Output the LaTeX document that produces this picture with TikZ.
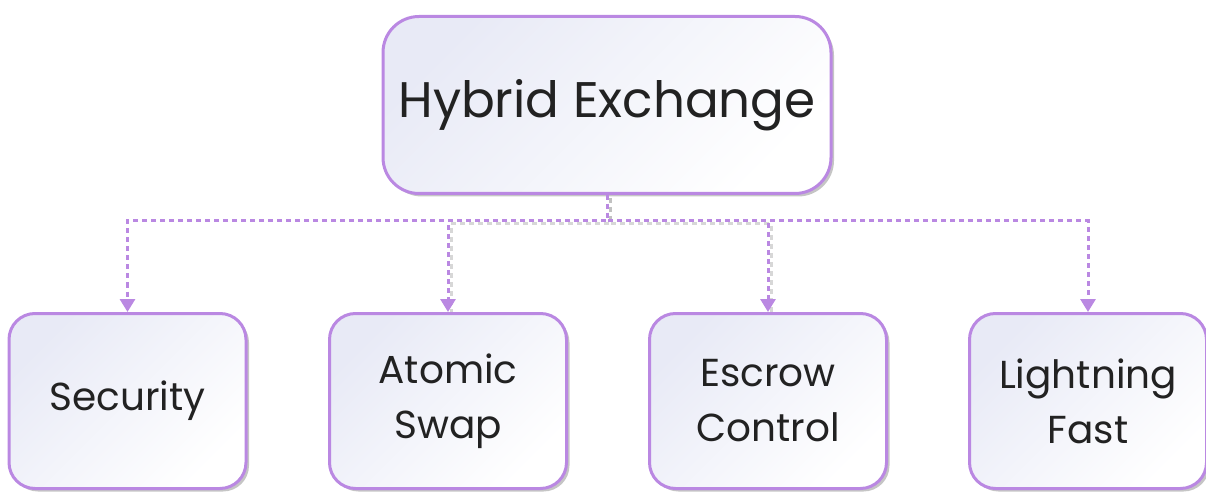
\documentclass[tikz,border=0pt]{standalone}
\usepackage{fontspec}
\setmainfont{Poppins}
\usetikzlibrary{arrows.meta,shadows}
\definecolor{purp}{RGB}{186,136,226}
\definecolor{lav}{RGB}{232,234,246}
\definecolor{txt}{RGB}{34,34,34}
\tikzset{
  box/.style={draw=purp, line width=3pt, rectangle, text=txt, align=center,
    top color=lav, bottom color=white, shading angle=45,
    drop shadow={shadow xshift=3pt, shadow yshift=-3pt, fill=black!45, opacity=0.5}},
  topbox/.style={box, rounded corners=36pt, minimum width=448pt, minimum height=177pt,
    font=\fontsize{50}{58}\selectfont},
  childbox/.style={box, rounded corners=26pt, minimum width=237pt, minimum height=175pt,
    font=\fontsize{39}{55}\selectfont},
  link/.style={draw=purp, line width=3pt, dash pattern=on 5pt off 4pt,
    -{Triangle[width=15pt,length=13pt]}},
  linkshadow/.style={draw=black!35, opacity=0.45, line width=3pt, dash pattern=on 5pt off 4pt}
}
\begin{document}
\begin{tikzpicture}[x=1pt,y=-1pt]
\useasboundingbox (0,0) rectangle (1206,494);
\node[topbox] (top) at (607,105) {Hybrid Exchange};
\node[childbox] (c1) at (127.5,401) {Security};
\node[childbox] (c2) at (448,401) {Atomic\\Swap};
\node[childbox] (c3) at (768,401) {Escrow\\Control};
\node[childbox] (c4) at (1088,401) {Lightning\\Fast};
\coordinate (bus) at (607,221);
\coordinate (busS) at (610,224);
\foreach \c in {c2,c3}{
  \draw[linkshadow] ([shift={(3,3)}]top.south) -- (busS) -| ([shift={(3,0)}]\c.north);
}
\foreach \c in {c1,c2,c3,c4}{
  \draw[link] (top.south) -- (bus) -| (\c.north);
}
\end{tikzpicture}
\end{document}
